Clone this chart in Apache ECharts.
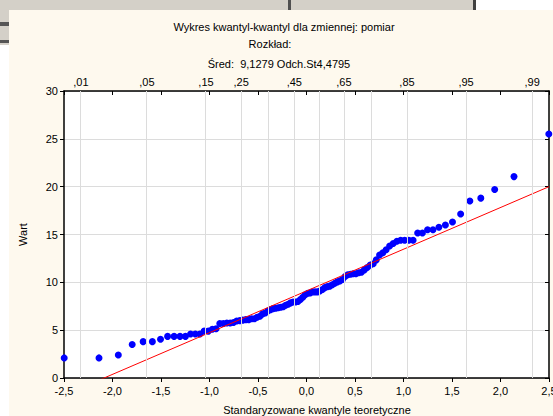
<!DOCTYPE html>
<html><head><meta charset="utf-8">
<script src="https://cdn.jsdelivr.net/npm/echarts@6/dist/echarts.min.js"></script>
<style>html,body{margin:0;padding:0;background:#fff}#c{width:553px;height:416px}</style>
</head><body><div id="c"></div>
<script>
// Theoretical standard-normal quantiles (Blom positions, n = 100)
const zTheo = [-2.498,-2.139,-1.940,-1.797,-1.684,-1.589,-1.505,-1.432,-1.365,-1.304,-1.248,-1.195,-1.146,-1.099,-1.055,-1.012,-0.971,-0.932,-0.894,-0.857,-0.821,-0.787,-0.753,-0.720,-0.688,-0.657,-0.626,-0.596,-0.566,-0.537,-0.509,-0.480,-0.453,-0.425,-0.398,-0.371,-0.345,-0.318,-0.292,-0.266,-0.240,-0.215,-0.189,-0.164,-0.138,-0.113,-0.088,-0.063,-0.038,-0.013,
0.013,0.038,0.063,0.088,0.113,0.138,0.164,0.189,0.215,0.240,0.266,0.292,0.318,0.345,0.371,0.398,0.425,0.453,0.480,0.509,0.537,0.566,0.596,0.626,0.657,0.688,0.720,0.753,0.787,0.821,0.857,0.894,0.932,0.971,1.012,1.055,1.099,1.146,1.195,1.248,1.304,1.365,1.432,1.505,1.589,1.684,1.797,1.940,2.139,2.498];
const observed = [2.1,2.1,2.4,3.5,3.8,3.8,4.05,4.35,4.35,4.35,4.35,4.6,4.6,4.6,4.9,
4.9,5.1,5.15,5.7,5.7,5.75,5.75,5.8,5.95,6.0,6.05,6.1,6.1,6.2,6.2,
6.35,6.45,6.7,6.8,7.0,7.15,7.25,7.3,7.35,7.4,7.45,7.6,7.7,7.85,7.95,7.95,8.0,8.2,8.45,8.7,
8.85,8.9,9.0,9.0,9.0,9.1,9.25,9.45,9.55,9.6,9.75,9.9,10.05,10.15,10.3,10.6,10.8,10.85,10.9,10.9,
11.0,11.05,11.3,11.55,11.8,11.95,12.35,12.85,13.1,13.4,13.8,14.05,14.3,14.4,14.4,14.4,14.4,
15.15,15.15,15.5,15.5,15.75,16.0,16.3,17.15,18.5,18.8,19.7,21.05,25.5];
// Reference line endpoints
const refLineX = [-2.5, 2.5];
const refLineY = [-1.8, 20.0];
// Top probability axis
const probGridZ = [-2.326,-1.645,-1.036,-0.674,-0.385,-0.126,0.126,0.385,0.674,1.036,1.645,2.326];
const probLabelZ = [-2.326,-1.645,-1.036,-0.674,-0.126,0.385,1.036,1.645,2.326];
const probLabels = [',01',',05',',15',',25',',45',',65',',85',',95',',99'];
// Titles
const titleLines = ['Wykres kwantyl-kwantyl dla zmiennej: pomiar','Rozkład:','Śred:  9,1279 Odch.St4,4795'];
const xName = 'Standaryzowane kwantyle teoretyczne';
const yName = 'Wart';

const FONT = 'Liberation Sans, Arial, sans-serif';
const chart = echarts.init(document.getElementById('c'), null, {renderer:'svg'});
const fmt = v => (Math.round(v*10)/10).toFixed(1).replace('.', ',');
const probFmt = v => { let best=0; probLabelZ.forEach((z,i)=>{ if(Math.abs(z-v)<Math.abs(probLabelZ[best]-v)) best=i; }); return probLabels[best]; };

chart.setOption({
  backgroundColor: '#FEF9EE',
  animation: false,
  graphic: [
    {type:'rect', shape:{x:0,y:0,width:553,height:10}, style:{fill:'#D4D0C8'}, z:0},
    {type:'rect', shape:{x:475,y:0,width:78,height:10}, style:{fill:'#FFFFFF'}, z:1},
    {type:'rect', shape:{x:473,y:0,width:3,height:10}, style:{fill:'#404040'}, z:1},
    {type:'rect', shape:{x:288,y:0,width:3,height:10}, style:{fill:'#505050'}, z:1},
    {type:'rect', shape:{x:0,y:10,width:9,height:406}, style:{fill:'#FFFFFF'}, z:0},
    {type:'rect', shape:{x:0,y:10,width:9,height:35}, style:{fill:'#D4D0C8'}, z:1},
    {type:'rect', shape:{x:0,y:22,width:9,height:4}, style:{fill:'#555555'}, z:2},
    {type:'rect', shape:{x:0,y:40,width:9,height:3}, style:{fill:'#555555'}, z:2},
    {type:'text', x:284, y:27, style:{text:titleLines[0], font:'11px '+FONT, fill:'#000', align:'center', verticalAlign:'middle'}},
    {type:'text', x:270, y:43.5, style:{text:titleLines[1], font:'11px '+FONT, fill:'#000', align:'center', verticalAlign:'middle'}},
    {type:'text', x:279, y:63.5, style:{text:titleLines[2], font:'11px '+FONT, fill:'#000', align:'center', verticalAlign:'middle'}},
    {type:'text', x:317, y:410, style:{text:xName, font:'11px '+FONT, fill:'#000', align:'center', verticalAlign:'middle'}}
  ],
  grid: {left:64, right:4, top:91, bottom:38, show:true, backgroundColor:'#FFFFFF', borderWidth:0,
         containLabel:false, outerBoundsMode:'none'},
  xAxis: [
    {type:'value', position:'bottom', min:-2.5, max:2.5, interval:0.5,
     axisLine:{show:true, onZero:false, lineStyle:{color:'#000', width:1.5}},
     axisTick:{show:true, inside:false, length:4, lineStyle:{color:'#000'}},
     axisLabel:{formatter:fmt, color:'#000', fontSize:11, fontFamily:FONT, margin:7, hideOverlap:false},
     splitLine:{show:false}},
    {type:'value', position:'top', min:-2.5, max:2.5, interval:0.5,
     axisLine:{show:true, onZero:false, lineStyle:{color:'#000', width:1.5}},
     axisTick:{show:true, inside:true, length:4, lineStyle:{color:'#000'}},
     axisLabel:{customValues:probLabelZ, formatter:probFmt, color:'#000', fontSize:11, fontFamily:FONT, margin:4},
     splitLine:{show:false}}
  ],
  yAxis: [
    {type:'value', position:'left', min:0, max:30, interval:5,
     name:yName, nameLocation:'middle', nameGap:36, nameRotate:90,
     nameTextStyle:{color:'#000', fontSize:11, fontFamily:FONT},
     axisLine:{show:true, onZero:false, lineStyle:{color:'#000', width:1.5}},
     axisTick:{show:true, inside:false, length:4, lineStyle:{color:'#000'}},
     axisLabel:{color:'#000', fontSize:11, fontFamily:FONT, margin:6},
     splitLine:{show:true, lineStyle:{color:'#DCDCDC', width:1}}},
    {type:'value', position:'right', min:0, max:30, interval:5,
     axisLine:{show:true, onZero:false, lineStyle:{color:'#000', width:1.5}},
     axisTick:{show:true, inside:true, length:4, lineStyle:{color:'#000'}},
     axisLabel:{show:false}, splitLine:{show:false}}
  ],
  series: [
    {type:'line', name:'probGrid', data:[], z:1, silent:true,
     markLine:{silent:true, symbol:'none', label:{show:false}, animation:false,
       lineStyle:{color:'#DCDCDC', width:1, type:'solid'},
       data: probGridZ.map(z => ({xAxis:z}))}},
    {type:'scatter', name:'pomiar', xAxisIndex:0, yAxisIndex:0, z:3,
     symbol:'circle', symbolSize:7, itemStyle:{color:'#0000FF', opacity:1},
     data: zTheo.map((z,i) => [z, observed[i]])},
    {type:'line', name:'ref', xAxisIndex:0, yAxisIndex:0, z:4, clip:true,
     showSymbol:false, symbol:'none', lineStyle:{color:'#FF0000', width:1},
     data: refLineX.map((x,i) => [x, refLineY[i]])}
  ]
});
</script></body></html>
